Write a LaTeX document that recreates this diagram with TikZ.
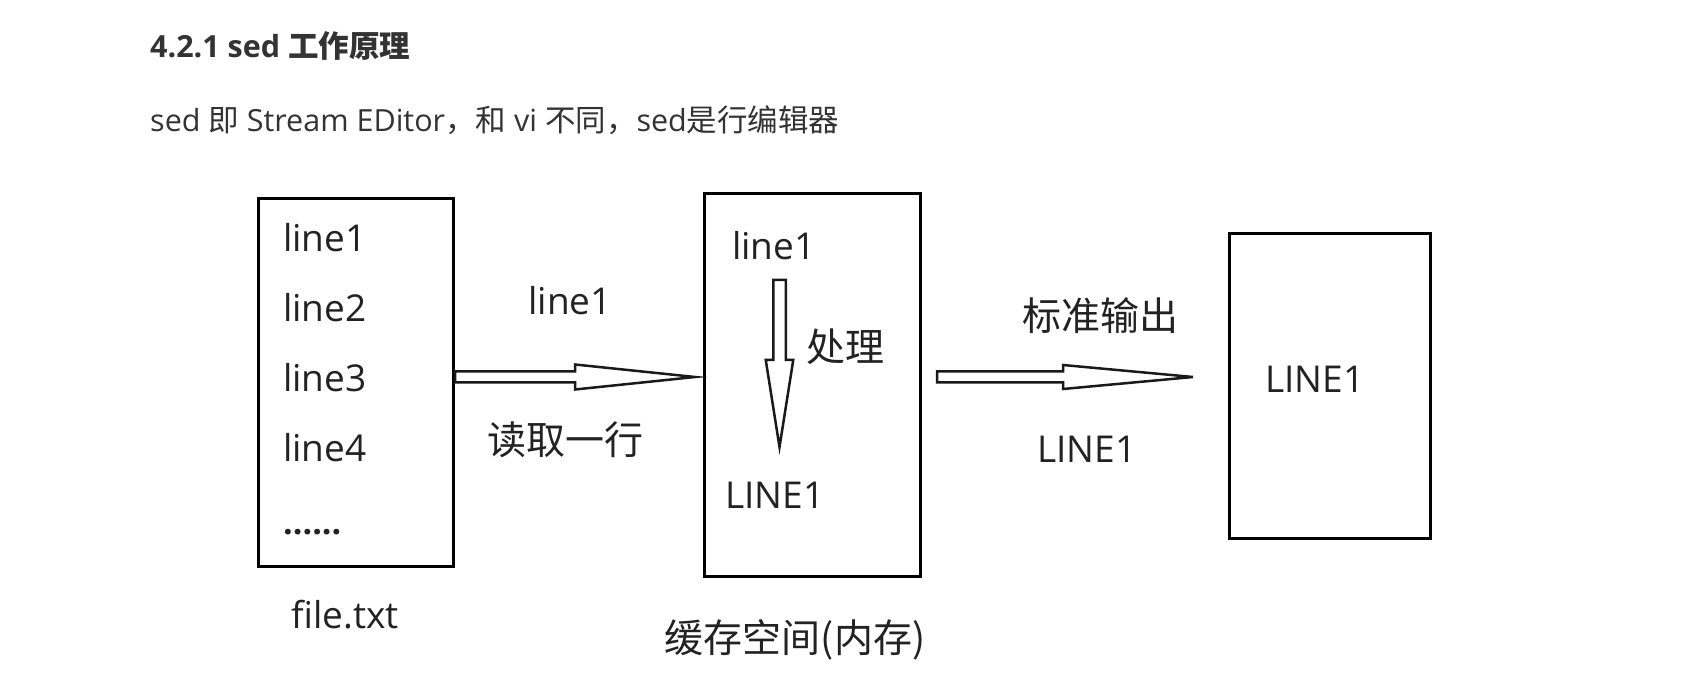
\documentclass[tikz,border=0pt]{standalone}
\usepackage{fontspec}
\setmainfont{Open Sans}
\newfontfamily\cjk{Noto Sans CJK SC}
\usetikzlibrary{calc}
\definecolor{ink}{HTML}{222222}
\definecolor{head}{HTML}{333333}
\begin{document}
\begin{tikzpicture}[x=1pt,y=-1pt,
  box/.style={draw=black, line width=3pt, inner sep=0, rectangle},
  lat/.style={font=\fontsize{37}{40}\selectfont, text=ink, inner sep=0},
  han/.style={font=\cjk\fontsize{39}{42}\selectfont, text=ink, inner sep=0},
  blk/.style={draw=black!90, line width=2.5pt, line join=miter, fill=white}]
\useasboundingbox (0,0) rectangle (1690,700);
\fill[white] (0,0) rectangle (1690,700);

% heading
\node[anchor=west, inner sep=0, text=head] (title) at (150,46)
  {\fontsize{30.5}{33}\selectfont\bfseries 4.2.1 sed {\cjk\bfseries 工作原理}};
\node[anchor=west, inner sep=0, text=head] (intro) at (150,120)
  {\fontsize{30.5}{33}\selectfont sed {\cjk 即} Stream EDitor{\cjk ，和} vi {\cjk 不同，}sed{\cjk 是行编辑器}};

% boxes
\node[box, minimum width=195pt, minimum height=368pt] (b1) at (356,382.5) {};
\node[box, minimum width=216pt, minimum height=383pt] (b2) at (812.5,385) {};
\node[box, minimum width=201pt, minimum height=305pt] (b3) at (1330,386) {};

% box 1 text
\node[lat, anchor=base west] (l1) at (283,252) {line1};
\node[lat, anchor=base west] (l2) at (283,322) {line2};
\node[lat, anchor=base west] (l3) at (283,392) {line3};
\node[lat, anchor=base west] (l4) at (283,462) {line4};
\node[lat, anchor=base west] (ld) at (283,534) {\fontsize{34}{36}\selectfont\bfseries ......};
\node[lat, anchor=base] (fname) at (345,628) {file.txt};

% box 2 text
\node[lat, anchor=base west] (m1) at (732,260) {line1};
\node[han] (proc) at (845,347) {处理};
\node[lat, anchor=base west] (m2) at (725,508) {LINE1};
\node[han] (buf) at (795,640) {缓存空间(内存)};

% box 3 text
\node[lat, anchor=base west] (r1) at (1265,393) {LINE1};

% arrow labels
\node[lat, anchor=base] (al1) at (570,315) {line1};
\node[han] (al2) at (565,440) {读取一行};
\node[han] (al3) at (1100,316) {标准输出};
\node[lat, anchor=base] (al4) at (1087,463) {LINE1};

% arrows
\coordinate (ya) at (0,377);
\coordinate (a1s) at (b1.east |- ya);
\coordinate (a1t) at ($(b2.west |- ya)+(-8,0)$);
\coordinate (a2s) at ($(b2.east |- ya)+(15,0)$);
\coordinate (a2t) at ($(b3.west |- ya)+(-35,0)$);

\newcommand\hblock[5]{%
  \draw[blk] ($(#1)+(0,-#4)$) -- ($(#2)+(-#3,-#4)$) -- ($(#2)+(-#3,-#5)$)
    -- (#2) -- ($(#2)+(-#3,#5)$) -- ($(#2)+(-#3,#4)$) -- ($(#1)+(0,#4)$) -- cycle;}
\hblock{a1s}{a1t}{120}{5.5}{12.5}
\hblock{a2s}{a2t}{130}{5.5}{12}

% down arrow
\coordinate (ds) at (779.5,280);
\coordinate (dt) at (779.5,447);
\draw[blk] ($(ds)+(-6.25,0)$) -- ($(dt)+(-6.25,-87)$) -- ($(dt)+(-13.75,-87)$)
  -- (dt) -- ($(dt)+(13.75,-87)$) -- ($(dt)+(6.25,-87)$) -- ($(ds)+(6.25,0)$) -- cycle;
\end{tikzpicture}
\end{document}
